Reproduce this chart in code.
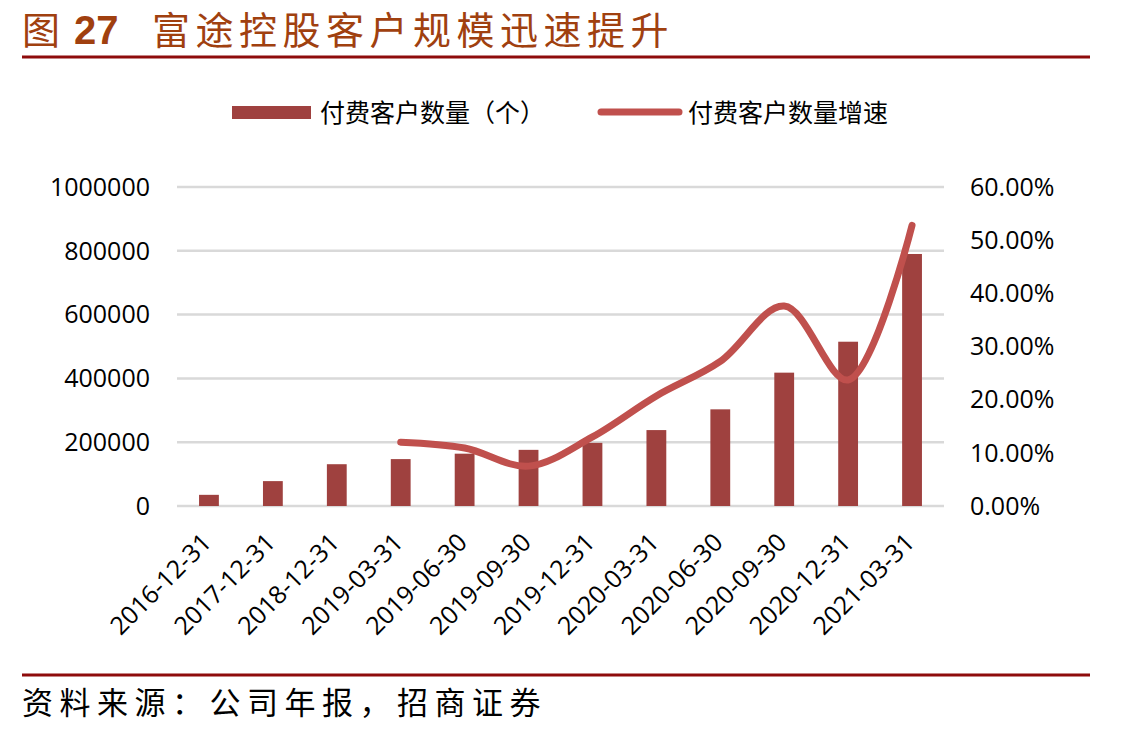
<!DOCTYPE html>
<html>
<head>
<meta charset="utf-8">
<script src="https://cdn.jsdelivr.net/npm/d3@7"></script>
<style>
  body { margin: 0; background: #fff; }
  .tick-label { font-family: "Open Sans", "Noto Sans CJK SC", sans-serif; font-size: 25px; fill: #000; }
  .legend-label { font-family: "Noto Sans CJK SC", sans-serif; font-size: 25px; fill: #000; }
  .grid-line { stroke: #d9d9d9; stroke-width: 2.5; }
</style>
</head>
<body>
<div id="wrapper"></div>
<script>
// data
const dates = [
  "2016-12-31", "2017-12-31", "2018-12-31", "2019-03-31", "2019-06-30", "2019-09-30",
  "2019-12-31", "2020-03-31", "2020-06-30", "2020-09-30", "2020-12-31", "2021-03-31",
];
const paidClients = [
  35000, 78000, 131000, 147000, 164000, 176000,
  198000, 238000, 303000, 418000, 515000, 790000,
];
// growth rate (%), no value for the first three dates
const growthRate = [null, null, null, 12.0, 10.9, 7.5, 13.0, 20.7, 27.2, 37.6, 23.7, 52.8];
const leftTicks = [0, 200000, 400000, 600000, 800000, 1000000];
const rightTicks = [0, 10, 20, 30, 40, 50, 60];
const legendLabels = ["付费客户数量（个）", "付费客户数量增速"];

async function drawChart() {
  const barColor = "#9f413f";
  const lineColor = "#c0504d";
  const darkRed = "#8e0b0b";

  // 1. dimensions
  let dimensions = {
    width: 1125,
    height: 735,
    margin: { top: 187, right: 181, bottom: 229, left: 177 },
  };
  dimensions.boundedWidth =
    dimensions.width - dimensions.margin.left - dimensions.margin.right;
  dimensions.boundedHeight =
    dimensions.height - dimensions.margin.top - dimensions.margin.bottom;

  // 2. canvas
  const wrapper = d3
    .select("#wrapper")
    .append("svg")
    .attr("width", dimensions.width)
    .attr("height", dimensions.height);

  // title + rules
  const title = wrapper.append("text")
    .attr("x", 22)
    .attr("y", 44)
    .attr("fill", "#a0400f")
    .style("font-family", "'Noto Sans CJK SC', sans-serif")
    .style("font-size", "38px");
  title.append("tspan").text("图");
  title.append("tspan")
    .attr("x", 74)
    .style("font-family", "'Liberation Sans', Arial, sans-serif")
    .style("font-weight", "700")
    .style("font-size", "40px")
    .text("27");
  title.append("tspan")
    .attr("x", 152)
    .style("letter-spacing", "5.5px")
    .text("富途控股客户规模迅速提升");

  wrapper.append("line")
    .attr("x1", 22).attr("x2", 1090)
    .attr("y1", 57).attr("y2", 57)
    .attr("stroke", darkRed).attr("stroke-width", 3);

  wrapper.append("line")
    .attr("x1", 22).attr("x2", 1090)
    .attr("y1", 675).attr("y2", 675)
    .attr("stroke", darkRed).attr("stroke-width", 3);

  wrapper.append("text")
    .attr("x", 22)
    .attr("y", 714)
    .style("font-family", "'Noto Sans CJK SC', sans-serif")
    .style("font-size", "31px")
    .style("letter-spacing", "6.5px")
    .text("资料来源：公司年报，招商证券");

  const bounds = wrapper
    .append("g")
    .style(
      "transform",
      `translate(${dimensions.margin.left}px, ${dimensions.margin.top}px)`
    );

  // 3. scales
  const xScale = d3
    .scaleBand()
    .domain(dates)
    .range([0, dimensions.boundedWidth])
    .paddingInner(0.69)
    .paddingOuter(0.345);

  const yScale = d3
    .scaleLinear()
    .domain([0, 1000000])
    .range([dimensions.boundedHeight, 0]);

  const rateScale = d3
    .scaleLinear()
    .domain([0, 60])
    .range([dimensions.boundedHeight, 0]);

  // 4. peripherals
  const peripherals = bounds.append("g");

  peripherals
    .selectAll(".grid-line")
    .data(leftTicks)
    .join("line")
    .attr("class", "grid-line")
    .attr("x1", 0)
    .attr("x2", dimensions.boundedWidth)
    .attr("y1", (d) => yScale(d))
    .attr("y2", (d) => yScale(d));

  peripherals
    .selectAll(".left-label")
    .data(leftTicks)
    .join("text")
    .attr("class", "tick-label left-label")
    .attr("x", -27)
    .attr("y", (d) => yScale(d))
    .attr("dy", "0.35em")
    .attr("text-anchor", "end")
    .text((d) => d);

  peripherals
    .selectAll(".right-label")
    .data(rightTicks)
    .join("text")
    .attr("class", "tick-label right-label")
    .attr("x", dimensions.boundedWidth + 26)
    .attr("y", (d) => rateScale(d))
    .attr("dy", "0.35em")
    .text((d) => `${d.toFixed(2)}%`);

  peripherals
    .selectAll(".x-label")
    .data(dates)
    .join("text")
    .attr("class", "tick-label x-label")
    .attr("text-anchor", "end")
    .attr(
      "transform",
      (d) =>
        `translate(${xScale(d) + xScale.bandwidth() / 2 + 4}, ${dimensions.boundedHeight + 38}) rotate(-45)`
    )
    .text((d) => d);

  // 5. data
  const dataset = dates.map((d, i) => ({
    date: d,
    clients: paidClients[i],
    rate: growthRate[i],
  }));

  bounds
    .append("g")
    .selectAll("rect")
    .data(dataset)
    .join("rect")
    .attr("x", (d) => xScale(d.date))
    .attr("width", xScale.bandwidth())
    .attr("y", (d) => yScale(d.clients))
    .attr("height", (d) => dimensions.boundedHeight - yScale(d.clients))
    .attr("fill", barColor);

  const lineGenerator = d3
    .line()
    .defined((d) => d.rate != null)
    .x((d) => xScale(d.date) + xScale.bandwidth() / 2)
    .y((d) => rateScale(d.rate))
    .curve(d3.curveCatmullRom.alpha(0.5));

  bounds
    .append("path")
    .datum(dataset.filter((d) => d.rate != null))
    .attr("d", lineGenerator)
    .attr("fill", "none")
    .attr("stroke", lineColor)
    .attr("stroke-width", 7)
    .attr("stroke-linecap", "round")
    .attr("stroke-linejoin", "round");

  // 6. legend
  const legend = wrapper.append("g");
  legend.append("rect")
    .attr("x", 232).attr("y", 106)
    .attr("width", 79).attr("height", 13)
    .attr("fill", barColor);
  legend.append("text")
    .attr("class", "legend-label")
    .attr("x", 320).attr("y", 113)
    .attr("dy", "0.35em")
    .text(legendLabels[0]);
  legend.append("line")
    .attr("x1", 601).attr("x2", 679)
    .attr("y1", 112).attr("y2", 112)
    .attr("stroke", lineColor)
    .attr("stroke-width", 7)
    .attr("stroke-linecap", "round");
  legend.append("text")
    .attr("class", "legend-label")
    .attr("x", 688).attr("y", 113)
    .attr("dy", "0.35em")
    .text(legendLabels[1]);
}
drawChart();
</script>
</body>
</html>
